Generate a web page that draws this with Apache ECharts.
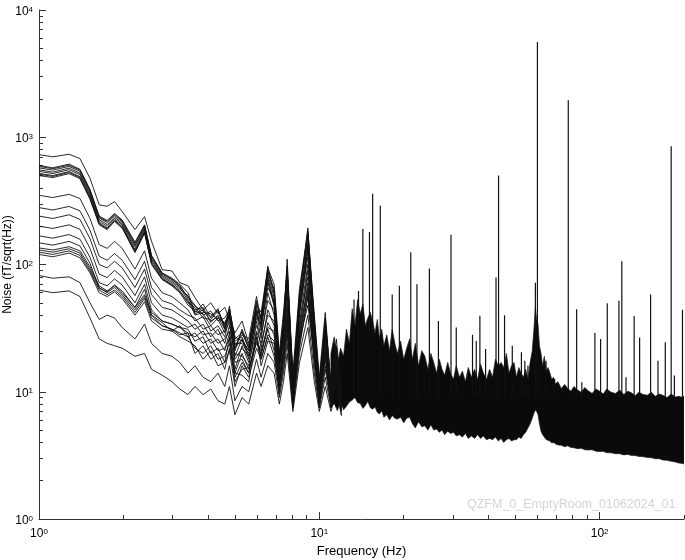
<!DOCTYPE html>
<html>
<head>
<meta charset="utf-8">
<script src="https://cdn.jsdelivr.net/npm/echarts@6/dist/echarts.min.js"></script>
<style>
  html, body { margin: 0; padding: 0; background: #fff; }
  #chart { width: 685px; height: 560px; }
</style>
</head>
<body>
<div id="chart"></div>
<script>
// frequency points (Hz) of the low-frequency part, where single lines can still be followed
var F_LOW = [1.0, 1.12, 1.28, 1.4, 1.52, 1.64, 1.75, 1.86, 1.98, 2.2, 2.38, 2.52, 2.75, 2.98, 3.18,
  3.4, 3.6, 3.85, 4.1, 4.35, 4.6, 4.78, 5.0, 5.3, 5.6, 5.97, 6.2, 6.55, 6.9, 7.2, 7.45, 7.68, 8.05, 8.5, 9.1,
  9.6, 10.0, 10.5, 11.0, 11.5, 12.0];

// noise (fT/sqrt(Hz)) of each channel at F_LOW
var TOP  = [730, 702, 735, 680, 476, 294, 287, 312, 261, 188, 238, 152, 91, 89, 72,
  68, 55, 44, 50, 41, 46, 37, 29, 36, 24, 48, 42, 94, 70, 20, 42, 88, 14, 65, 185, 40, 13, 42, 11, 26, 10];
var UP1  = [600, 575, 615, 560, 390, 240, 222, 252, 224, 150, 205, 118, 86, 78, 70,
  60, 42, 49, 38, 45, 31, 47, 23, 28, 26, 56, 36, 97, 58, 17, 33, 110, 12, 55, 194, 33, 11, 36, 12, 20, 9];
var UP7  = [590, 566, 604, 552, 382, 236, 218, 248, 220, 146, 202, 116, 85, 77, 69,
  54, 47, 43, 39, 44, 33, 45, 26, 29, 22, 50, 38, 90, 60, 18, 34, 98, 12, 57, 178, 36, 11.5, 35, 10.5, 22, 9];
var UP2  = [575, 552, 590, 540, 372, 232, 214, 243, 216, 142, 198, 114, 84, 76, 67,
  56, 48, 40, 43, 36, 38, 44, 27, 25, 21, 44, 39, 88, 64, 19, 37, 92, 11, 60, 170, 37, 12, 31, 10, 23, 9.5];
var UP3  = [555, 532, 572, 522, 360, 225, 206, 236, 210, 138, 192, 110, 82, 74, 66,
  52, 44, 46, 35, 40, 34, 40, 21, 31, 23, 52, 33, 80, 50, 16, 29, 85, 13, 48, 158, 29, 10, 38, 11, 19, 8.5];
var UP4  = [540, 518, 556, 508, 350, 218, 200, 230, 205, 132, 188, 108, 80, 72, 64,
  57, 40, 42, 41, 37, 29, 43, 25, 27, 19, 40, 37, 84, 55, 18, 31, 78, 10, 52, 145, 34, 11, 28, 9.5, 21, 8];
var UP5  = [520, 500, 538, 490, 338, 212, 194, 224, 199, 128, 182, 104, 78, 70, 62,
  50, 46, 38, 37, 43, 32, 39, 22, 30, 22, 46, 30, 72, 47, 15, 35, 70, 11.5, 44, 135, 27, 10.5, 33, 10.5, 18, 9];
var UP8  = [512, 492, 528, 482, 332, 208, 191, 221, 196, 126, 179, 102, 77, 69, 61,
  51, 41, 44, 36, 39, 31, 42, 22, 26, 21, 43, 32, 76, 48, 16, 29, 82, 10.5, 45, 140, 30, 10, 30, 9.5, 20, 8.5];
var UP6  = [500, 482, 518, 472, 326, 205, 188, 218, 193, 124, 176, 100, 76, 68, 60,
  48, 43, 41, 33, 38, 35, 41, 24, 24, 20, 38, 34, 66, 52, 17, 27, 75, 10, 40, 128, 31, 9.5, 26, 9, 22, 8];
var MID1 = [350, 336, 356, 330, 230, 143, 134, 152, 134, 92, 128, 78, 60, 56, 50,
  44, 36, 39, 30, 33, 27, 38, 19, 26, 18, 42, 26, 60, 40, 14, 30, 62, 12, 42, 115, 24, 11, 30, 9.5, 17, 8.5];
var MID2 = [280, 268, 286, 264, 186, 116, 108, 122, 108, 76, 106, 66, 52, 49, 44,
  40, 38, 31, 33, 28, 30, 35, 18, 22, 19, 33, 28, 52, 44, 16, 24, 55, 9.5, 35, 100, 28, 9, 22, 10, 19, 7.5];
var MID3 = [240, 230, 246, 226, 160, 100, 94, 106, 94, 66, 92, 58, 46, 44, 40,
  36, 31, 34, 27, 31, 24, 33, 20, 19, 16, 36, 22, 44, 33, 12.5, 26, 48, 10.5, 30, 90, 21, 10, 27, 8.5, 15, 8];
var MID4 = [200, 192, 205, 189, 134, 84, 79, 90, 80, 57, 80, 50, 40, 38, 35,
  32, 34, 28, 29, 24, 26, 30, 15, 23, 17, 30, 24, 40, 36, 13, 21, 45, 9, 33, 80, 25, 8.5, 20, 9, 16, 7.5];
var MID5 = [168, 161, 172, 158, 114, 72, 68, 77, 69, 50, 70, 44, 36, 34, 32,
  29, 27, 30, 24, 26, 21, 29, 17, 18, 14, 27, 19, 35, 28, 11, 23, 40, 9.5, 27, 72, 19, 9, 24, 8, 14, 7];
var MID6 = [148, 142, 152, 140, 102, 65, 61, 69, 62, 46, 64, 40, 33, 31, 29,
  27, 29, 24, 26, 21, 22, 26, 14, 20, 15, 25, 21, 32, 30, 12, 19, 38, 8.5, 29, 66, 22, 8, 18, 8.5, 13, 7.5];
var LOW1 = [135, 130, 138, 128, 96, 68, 62, 68, 60, 46, 58, 42, 36, 34, 32,
  31, 25, 27, 20, 22, 17, 27, 13, 17, 14, 29, 18, 28, 25, 11, 20, 36, 9, 26, 62, 18, 9.5, 21, 8, 15, 7];
var LOW2 = [130, 125, 133, 123, 92, 66, 60, 66, 58, 44, 56, 40, 35, 30, 33,
  27, 22, 20, 23, 18, 19, 24, 12, 15, 15.5, 24, 20, 31, 21, 10, 17, 31, 8, 24, 55, 21, 8.5, 16, 9, 14, 8];
var LOW3 = [125, 120, 128, 118, 89, 63, 58, 63, 56, 42, 54, 38, 33, 31, 28,
  29, 20, 23, 18, 20, 15, 22, 14, 13.5, 12, 27, 16, 25, 24, 9.5, 18, 33, 8.5, 22, 58, 16, 8, 19, 7.5, 12.5, 7];
var LOW4 = [120, 115, 123, 113, 86, 60, 56, 61, 54, 40, 51, 36, 31, 30, 27,
  25, 23, 18, 21, 16, 17, 21, 11, 16, 13, 22, 18, 27, 19, 10.5, 15, 28, 7.5, 25, 48, 19, 7.5, 15, 8, 13, 7.5];
var BOT1 = [82, 78, 80, 72, 50, 37, 40, 38, 32, 26, 34, 24, 20, 19, 17,
  14, 16, 13, 12, 14, 11, 16, 8.5, 11, 10, 18, 13, 20, 17, 9, 14, 24, 7.5, 20, 40, 14, 7.5, 13, 7.5, 12, 6.5];
var BOT2 = [63, 60, 62, 56, 38, 26, 24, 23, 22, 19, 20, 15, 13.5, 12, 10.5,
  9.5, 11, 9.5, 10.5, 8.5, 8, 11, 6.6, 9, 8, 14, 11, 16, 14, 8, 12, 20, 7, 17, 32, 12, 7, 11, 7, 10, 6.5];

// above ~11 Hz the channels merge into one dark band: its upper and lower edge
var BAND_F = [
  11.0, 11.3, 11.6, 11.9, 12.2, 12.5, 12.8, 13.1, 13.4, 13.7,
  14.0, 14.3, 14.6, 14.9, 15.2, 15.5, 15.8, 16.1, 16.4, 16.7,
  17.0, 17.4, 17.8, 18.2, 18.6, 19.0, 19.5, 20.0, 20.5, 21.0,
  21.5, 22.0, 22.6, 23.2, 23.8, 24.4, 25.0, 25.6, 26.2, 26.8,
  27.4, 28.0, 28.7, 29.4, 30.1, 30.8, 31.6, 32.4, 33.2, 34.0,
  34.9, 35.8, 36.7, 37.6, 38.5, 39.5, 40.5, 41.5, 42.5, 43.5,
  44.5, 45.5, 46.5, 47.5, 48.5, 49.5, 50.5, 51.5, 52.5, 53.5,
  54.5, 55.5, 56.5, 57.5, 58.3, 59.0, 59.6, 60.3, 61.0, 61.8,
  62.6, 63.5, 64.5, 65.5, 66.5, 67.5, 68.5, 69.5, 71, 73,
  75, 77, 79, 81, 83.5, 86, 88.5, 91, 94, 97,
  100, 103, 106, 110, 114, 118, 122, 126, 130, 134,
  138, 143, 148, 153, 158, 163, 168, 174, 180, 186,
  192, 198, 200];
var BAND_HI = [
  20, 27, 16, 22, 19, 31, 24, 45, 33, 53,
  41, 49, 33, 38, 42, 36, 29, 37, 26, 31,
  23, 28, 21, 31, 24, 20, 25, 18, 22, 26,
  18, 24, 16, 21, 19, 15, 20, 17, 14, 18,
  15, 13.5, 17, 14, 12.5, 16, 13, 14.5, 12, 15.5,
  13, 15, 12.5, 16.5, 14, 12.5, 15, 13, 18, 16,
  17, 15.5, 20, 14, 16, 17, 13, 15.5, 14, 13,
  15, 12.5, 17, 21, 31, 46, 37, 34, 23, 20,
  16, 19, 14.5, 15.5, 14, 12.5, 13, 11.5, 12, 10.6,
  11.4, 10.6, 10.1, 11, 10.3, 9.9, 10.8, 10.2, 9.7, 10.5,
  10.1, 9.6, 10.5, 9.9, 9.7, 10.3, 9.5, 10.1, 9.8, 9.3,
  9.9, 9.5, 9.4, 9.9, 9.2, 9.6, 9.4, 9.0, 9.6, 9.1,
  9.2, 9.0, 9.3];
var BAND_LO = [
  7.5, 8.1, 7.1, 8.5, 7.2, 7.7, 8.3, 8.6, 9, 8.2,
  8.1, 7.4, 7.8, 8.4, 7.5, 7.3, 7.6, 6.9, 6.7, 7.1,
  6.3, 6.6, 6.0, 6.5, 6.2, 6.1, 6.3, 5.7, 6.2, 6.3,
  5.6, 5.2, 5.8, 5.3, 5.4, 5.0, 5.5, 5.0, 5.1, 4.8,
  5.0, 4.6, 4.9, 4.7, 4.8, 4.5, 4.6, 4.4, 4.7, 4.3,
  4.5, 4.3, 4.6, 4.3, 4.5, 4.2, 4.3, 4.2, 4.4, 4.1,
  4.3, 4.0, 4.2, 4.3, 4.1, 4.2, 4.2, 4.4, 4.3, 4.6,
  4.8, 5.2, 5.6, 6.2, 6.8, 7.2, 7, 6.6, 5.6, 4.9,
  4.6, 4.4, 4.2, 4.15, 4.1, 3.95, 4.0, 3.9, 3.82, 3.8,
  3.7, 3.76, 3.65, 3.63, 3.57, 3.6, 3.5, 3.49, 3.5, 3.41,
  3.39, 3.4, 3.32, 3.31, 3.26, 3.26, 3.19, 3.22, 3.15, 3.15,
  3.1, 3.09, 3.04, 3.03, 2.97, 2.98, 2.91, 2.89, 2.84, 2.81,
  2.75, 2.73, 2.7];

// narrow line peaks sticking out of the band
var SPIKE_F = [13.3, 13.8, 14.3, 15.1, 15.5, 16.5, 18.2, 19.3, 21.2, 22.3, 24.7, 26.6, 29.5, 30.8, 35.2,
  36.3, 37.4, 39.2, 42.7, 43.6, 45.8, 48.8, 52.6, 54.1, 55.5, 59.0, 60.0, 64.4, 69.1, 77.3, 82.8, 86.4,
  96.2, 100.8, 106.5, 117.2, 120.0, 124.2, 132.8, 138.9, 152.0, 161.5, 171.5, 180.0, 184.8, 197.5];
var SPIKE_V = [53, 62, 190, 180, 360, 290, 58, 68, 125, 70, 93, 36, 171, 32, 28, 25, 39.5, 21.7, 79, 500,
  40, 23, 20.4, 17.5, 16, 72, 5600, 17.5, 12.6, 1950, 44.5, 11.9, 29, 26, 49.6, 52, 106, 13, 39.4, 26.7,
  58, 17.5, 24.5, 850, 13.4, 44];
var SPIKE_BASE = 9;

var X_MAJOR = [1, 10, 100];
var X_MINOR = [2, 3, 4, 5, 6, 7, 8, 9, 20, 30, 40, 50, 60, 70, 80, 90, 200];
var Y_MAJOR = [1, 10, 100, 1000, 10000];
var Y_MINOR = [2, 3, 4, 5, 6, 7, 8, 9, 20, 30, 40, 50, 60, 70, 80, 90, 200, 300, 400, 500, 600, 700, 800, 900,
  2000, 3000, 4000, 5000, 6000, 7000, 8000, 9000];

var LINES = [TOP, UP1, UP7, UP2, UP3, UP4, UP5, UP8, UP6, MID1, MID2, MID3, MID4, MID5, MID6,
  LOW1, LOW2, LOW3, LOW4, BOT1, BOT2];

var FONT = 'Liberation Sans';

function powLabel(v) {
  return '10{s|' + Math.round(Math.log10(v)) + '}';
}
var labelRich = {
  s: { fontSize: 8, lineHeight: 8, verticalAlign: 'top', fontFamily: FONT, color: '#000' }
};

var series = [];

// dark band
series.push({
  type: 'custom',
  z: 2,
  silent: true,
  clip: true,
  data: [[BAND_F[0], BAND_HI[0]]],
  renderItem: function (params, api) {
    var pts = [];
    for (var i = 0; i < BAND_F.length; i++) pts.push(api.coord([BAND_F[i], BAND_HI[i]]));
    for (var j = BAND_F.length - 1; j >= 0; j--) pts.push(api.coord([BAND_F[j], BAND_LO[j]]));
    return { type: 'polygon', shape: { points: pts }, style: { fill: '#0a0a0a', stroke: '#1a1a1a', lineWidth: 0.7 } };
  }
});

LINES.forEach(function (arr) {
  series.push({
    type: 'line',
    z: 3,
    silent: true,
    symbol: 'none',
    lineStyle: { color: '#111', width: 0.9 },
    data: F_LOW.map(function (f, i) { return [f, arr[i]]; })
  });
});

var spikeData = [];
SPIKE_F.forEach(function (f, i) {
  spikeData.push([f, SPIKE_BASE], [f, SPIKE_V[i]], [f, '-']);
});
series.push({
  type: 'line',
  z: 3,
  silent: true,
  symbol: 'none',
  connectNulls: false,
  lineStyle: { color: '#111', width: 1.2 },
  data: spikeData
});

var myChart = echarts.init(document.getElementById('chart'));
myChart.setOption({
  animation: false,
  backgroundColor: '#fff',
  textStyle: { fontFamily: FONT },
  grid: { left: 39, right: 1, top: 10, bottom: 41, containLabel: false, outerBoundsMode: 'none' },
  xAxis: [{
    type: 'log', logBase: 10, min: 1, max: 200,
    name: 'Frequency (Hz)', nameLocation: 'middle', nameGap: 26, nameMoveOverlap: false,
    nameTextStyle: { fontSize: 13, color: '#000', fontFamily: FONT },
    axisLine: { show: true, lineStyle: { color: '#333', width: 1 } },
    axisTick: { show: true, inside: true, length: 7, customValues: X_MAJOR, lineStyle: { color: '#333' } },
    axisLabel: { show: true, customValues: X_MAJOR, margin: 9, fontSize: 12, color: '#000', fontFamily: FONT,
      formatter: powLabel, rich: labelRich },
    splitLine: { show: false }
  }, {
    type: 'log', logBase: 10, min: 1, max: 200, position: 'bottom',
    axisLine: { show: false },
    axisTick: { show: true, inside: true, length: 4, customValues: X_MINOR, lineStyle: { color: '#333' } },
    axisLabel: { show: false },
    splitLine: { show: false }
  }],
  yAxis: [{
    type: 'log', logBase: 10, min: 1, max: 10000,
    name: 'Noise (fT/sqrt(Hz))', nameLocation: 'middle', nameGap: 25, nameRotate: 90, nameMoveOverlap: false,
    nameTextStyle: { fontSize: 12, color: '#000', fontFamily: FONT },
    axisLine: { show: true, lineStyle: { color: '#333', width: 1 } },
    axisTick: { show: true, inside: true, length: 7, customValues: Y_MAJOR, lineStyle: { color: '#333' } },
    axisLabel: { show: true, customValues: Y_MAJOR, margin: 6, fontSize: 12, color: '#000', fontFamily: FONT,
      formatter: powLabel, rich: labelRich, padding: [3, 0, 0, 0] },
    splitLine: { show: false }
  }, {
    type: 'log', logBase: 10, min: 1, max: 10000, position: 'left',
    axisLine: { show: false },
    axisTick: { show: true, inside: true, length: 4, customValues: Y_MINOR, lineStyle: { color: '#333' } },
    axisLabel: { show: false },
    splitLine: { show: false }
  }],
  graphic: [{
    type: 'text', left: 467, top: 498, z: 10, silent: true,
    style: { text: 'QZFM_0_EmptyRoom_01062024_01', fill: '#d4d4d4', fontSize: 12.5, fontFamily: FONT }
  }],
  series: series
});
</script>
</body>
</html>
